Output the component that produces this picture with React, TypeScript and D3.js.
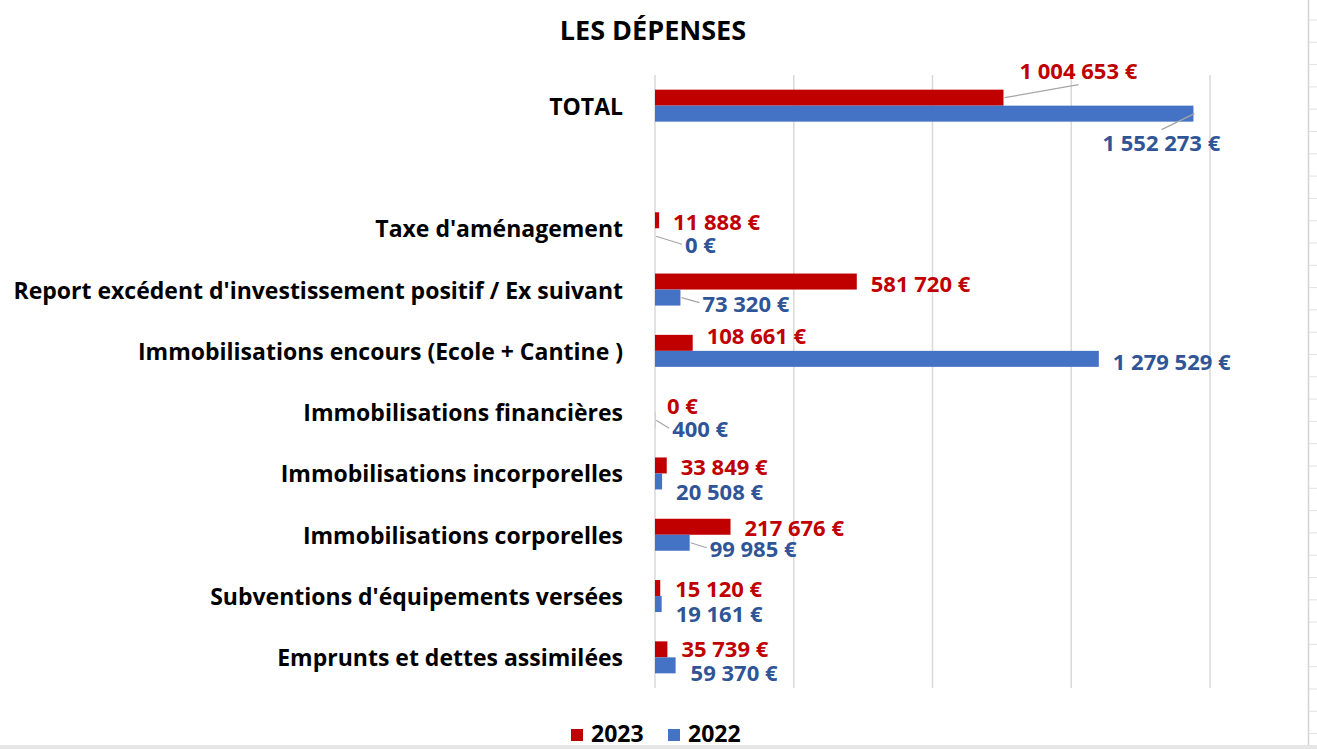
import React, { useEffect, useRef } from 'react';
import * as d3 from 'd3';

// categories top to bottom (the blank one is the empty row under TOTAL)
const categories = [
  "TOTAL",
  "",
  "Taxe d'aménagement",
  "Report excédent d'investissement positif / Ex suivant",
  "Immobilisations encours (Ecole + Cantine )",
  "Immobilisations financières",
  "Immobilisations incorporelles",
  "Immobilisations corporelles",
  "Subventions d'équipements versées",
  "Emprunts et dettes assimilées",
];
const values2023 = [1004653, null, 11888, 581720, 108661, 0, 33849, 217676, 15120, 35739];
const values2022 = [1552273, null, 0, 73320, 1279529, 400, 20508, 99985, 19161, 59370];
const seriesNames = ['2023', '2022'];
const gridTicks = [0, 400000, 800000, 1200000, 1600000];

// data label nudges: [dx from bar end, dy from bar centre, leader line]
const nudge2023 = [[16, -28, 1], null, [14, 1, 0], [14, 1, 0], [14, -8, 0], [12, 1, 0], [14, 1, 0], [14, 0, 0], [15, 0, 0], [14, -1, 0]];
const nudge2022 = [[-91, 28, 1], null, [30, 8, 1], [22, 5, 1], [14, 2, 0], [17, 8, 1], [14, 10, 0], [20, 5, 1], [14, 9, 0], [15, 7, 0]];

const W = 1317;
const H = 749;
const FONT = "'Open Sans', sans-serif";

const fmt = (v: number) => d3.format(',')(v).replace(/,/g, ' ') + ' €';

const App = () => {
  const svgRef = useRef<SVGSVGElement>(null);

  useEffect(() => {
    const svg = d3.select(svgRef.current);
    svg.selectAll('*').remove();

    svg.append('rect').attr('width', W).attr('height', H).attr('fill', '#fff');

    // spreadsheet edge on the right and bottom
    svg.append('line')
      .attr('x1', 1308.5).attr('x2', 1308.5).attr('y1', 0).attr('y2', 745)
      .style('stroke', '#d4d4d4').style('stroke-width', 1.5);
    svg.selectAll('.row-tick')
      .data(d3.range(20, 745, 22.3))
      .enter().append('line')
      .attr('x1', 1309).attr('x2', W)
      .attr('y1', d => d).attr('y2', d => d)
      .style('stroke', '#e2e2e2').style('stroke-width', 1);
    svg.append('rect')
      .attr('x', 0).attr('y', 745).attr('width', W).attr('height', 4)
      .attr('fill', '#e6e6e6');

    const x = d3.scaleLinear().domain([0, 1600000]).range([655, 1210]);
    const y = d3.scaleBand<string>()
      .domain(categories.map((_, i) => String(i)))
      .range([75, 688]);
    const inner = d3.scaleBand<string>().domain(seriesNames).range([0, 32]);
    const barTop = (i: number, s: string) => (y(String(i)) as number) + y.bandwidth() / 2 - 16 + (inner(s) as number);

    // vertical grid lines
    svg.append('g')
      .selectAll('line')
      .data(gridTicks)
      .enter().append('line')
      .attr('x1', d => x(d)).attr('x2', d => x(d))
      .attr('y1', 75).attr('y2', 688)
      .style('stroke', '#d9d9d9')
      .style('stroke-width', 1.5);

    // title
    svg.append('text')
      .attr('x', 653).attr('y', 29)
      .attr('text-anchor', 'middle')
      .attr('dominant-baseline', 'central')
      .style('font-family', FONT)
      .style('font-size', '27px')
      .style('font-weight', 700)
      .style('fill', '#000')
      .text('LES DÉPENSES');

    // category labels
    svg.append('g')
      .selectAll('text')
      .data(categories)
      .enter().append('text')
      .attr('x', 623)
      .attr('y', (_, i) => (y(String(i)) as number) + y.bandwidth() / 2)
      .attr('text-anchor', 'end')
      .attr('dominant-baseline', 'central')
      .style('font-family', FONT)
      .style('font-size', '23px')
      .style('font-weight', 700)
      .style('fill', '#000')
      .text(d => d);

    const series = [
      { name: '2023', values: values2023, nudge: nudge2023, color: '#C00000', labelColor: '#C00000' },
      { name: '2022', values: values2022, nudge: nudge2022, color: '#4472C4', labelColor: '#2F5597' },
    ];

    series.forEach(s => {
      const rows = s.values
        .map((v, i) => ({ v, i, n: s.nudge[i] }))
        .filter(d => d.v !== null) as { v: number; i: number; n: number[] }[];

      svg.append('g')
        .selectAll('rect')
        .data(rows)
        .enter().append('rect')
        .attr('x', x(0))
        .attr('y', d => barTop(d.i, s.name))
        .attr('width', d => x(d.v) - x(0))
        .attr('height', inner.bandwidth())
        .attr('fill', s.color);

      const labels = svg.append('g')
        .selectAll('text')
        .data(rows)
        .enter().append('text')
        .attr('x', d => x(d.v) + d.n[0])
        .attr('y', d => barTop(d.i, s.name) + inner.bandwidth() / 2 + d.n[1])
        .attr('dominant-baseline', 'central')
        .style('font-family', FONT)
        .style('font-size', '22px')
        .style('font-weight', 700)
        .style('fill', s.labelColor)
        .text(d => fmt(d.v));

      // leader lines from bar end to the moved label
      labels.each(function (d) {
        if (!d.n[2]) return;
        const box = (this as SVGTextElement).getBBox();
        const x0 = x(d.v);
        const y0 = barTop(d.i, s.name) + inner.bandwidth() / 2;
        let x1: number;
        let y1: number;
        if (box.y > y0 + 6 && box.x < x0) {
          x1 = box.x + box.width / 2; y1 = box.y + 3;
        } else if (box.y + box.height < y0 - 6) {
          x1 = box.x + box.width / 2; y1 = box.y + box.height;
        } else {
          x1 = box.x - 3; y1 = box.y + box.height / 2;
        }
        svg.append('line')
          .attr('x1', x0 + 1).attr('y1', y0)
          .attr('x2', x1).attr('y2', y1)
          .style('stroke', '#a6a6a6')
          .style('stroke-width', 1.2);
      });
    });

    // legend
    const legend = svg.append('g').attr('transform', 'translate(571, 733)');
    const items = legend.selectAll('g')
      .data(series)
      .enter().append('g')
      .attr('transform', (_, i) => `translate(${i * 97}, 0)`);
    items.append('rect')
      .attr('x', 0).attr('y', -4).attr('width', 12).attr('height', 12)
      .attr('fill', d => d.color);
    items.append('text')
      .attr('x', 20).attr('y', 0)
      .attr('dominant-baseline', 'central')
      .style('font-family', FONT)
      .style('font-size', '23px')
      .style('font-weight', 700)
      .style('fill', '#000')
      .text(d => d.name);
  }, []);

  return (
    <svg
      ref={svgRef}
      width={W}
      height={H}
      style={{ position: 'absolute', left: 0, top: 0, display: 'block' }}
    />
  );
};

export default App;
